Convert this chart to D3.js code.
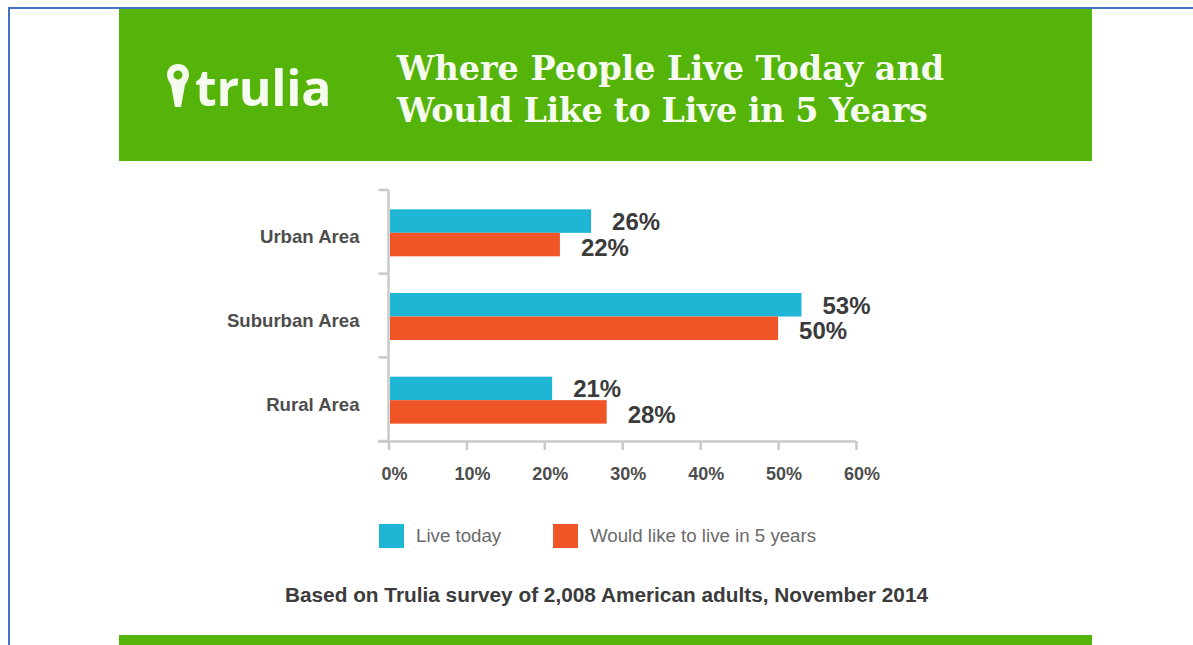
<!DOCTYPE html>
<html>
<head>
<meta charset="utf-8">
<script src="https://cdnjs.cloudflare.com/ajax/libs/d3/7.8.5/d3.min.js"></script>
<style>
  html, body { margin: 0; padding: 0; background: #fff; overflow: hidden; }
  svg { display: block; }
  text { font-family: "Liberation Sans", Arial, sans-serif; }
</style>
</head>
<body>
<script>
const categories = ["Urban Area", "Suburban Area", "Rural Area"];
const liveToday = [26, 53, 21];
const inFiveYears = [22, 50, 28];
const xTicks = [0, 10, 20, 30, 40, 50, 60];
const seriesNames = ["Live today", "Would like to live in 5 years"];
const titleLines = ["Where People Live Today and", "Would Like to Live in 5 Years"];
const footnote = "Based on Trulia survey of 2,008 American adults, November 2014";

const GREEN = "#55b409", BLUE = "#1fb6d6", RED = "#f05527", AXIS = "#c9c9c9", INK = "#3b3b3b";
const seriesColors = [BLUE, RED];

const svg = d3.select("body").append("svg").attr("width", 1193).attr("height", 645);

// Page frame: top and left rules only
svg.append("path")
  .attr("d", "M9,645V8H1193")
  .attr("fill", "none").attr("stroke", "#4472c4").attr("stroke-width", 2);

// Header and footer bands
svg.append("rect").attr("x", 119).attr("y", 9).attr("width", 973).attr("height", 152).attr("fill", GREEN);
svg.append("rect").attr("x", 119).attr("y", 635).attr("width", 973).attr("height", 10).attr("fill", GREEN);

// Logo: map pin and wordmark
const logo = svg.append("g").attr("transform", "translate(178,64)");
logo.append("path")
  .attr("fill-rule", "evenodd")
  .attr("fill", "#f6fbf0")
  .attr("d", "M0,0C-6.5,0,-11,4.6,-11,11C-11,15,-8.5,18,-7,21L-3,43H3L7,21C8.5,18,11,15,11,11C11,4.6,6.5,0,0,0ZM0,6.5A4.5,4.5,0,1,1,0,15.5A4.5,4.5,0,1,1,0,6.5Z");
svg.append("text")
  .attr("x", 195).attr("y", 106)
  .attr("fill", "#f6fbf0")
  .style("font-family", "'Open Sans', sans-serif")
  .style("font-weight", 700).style("font-size", "50px")
  .style("letter-spacing", "-0.3px")
  .text("trulia");

// Title; the second line is set slightly tighter than the first
svg.selectAll("text.title").data(titleLines).join("text")
  .attr("class", "title")
  .attr("x", 397)
  .attr("y", (d, i) => 80 + i * 42)
  .attr("fill", "#f6fbf0")
  .style("font-family", "'DejaVu Serif', serif")
  .style("font-weight", 700).style("font-size", "33.4px")
  .style("letter-spacing", (d, i) => i ? "-0.42px" : "0")
  .text(d => d);

// Scales
const x = d3.scaleLinear().domain([0, 60]).range([388.5, 856]);
const y = d3.scaleBand().domain(categories).range([191, 442]);
const barH = 23.5;
const barStart = 390;

// Axes
const gx = svg.append("g").attr("transform", "translate(0,441)")
  .call(d3.axisBottom(x).tickValues(xTicks).tickSize(9).tickPadding(17).tickFormat(d => d + "%"));
gx.select(".domain").attr("d", "M378,0.5H856").attr("stroke", AXIS).attr("stroke-width", 2.5);
gx.selectAll(".tick line").attr("stroke", AXIS).attr("stroke-width", 2.5);
gx.selectAll(".tick text")
  .attr("dx", 5.5)
  .attr("fill", "#4d4d4d")
  .style("font-family", "'Liberation Sans', Arial, sans-serif")
  .style("font-size", "18px").style("font-weight", 700);

const yAxis = d3.axisLeft(y).tickSize(0).tickPadding(29);
const gy = svg.append("g").attr("transform", "translate(388.5,0)").call(yAxis);
gy.select(".domain").attr("d", "M0,190V441").attr("stroke", AXIS).attr("stroke-width", 2.5);
gy.selectAll(".tick text")
  .attr("dy", "0.56em")
  .attr("fill", "#4d4d4d")
  .style("font-family", "'Liberation Sans', Arial, sans-serif")
  .style("font-size", "18.6px").style("font-weight", 700);

// Separator ticks between the category bands
gy.selectAll("line.sep").data(d3.range(categories.length + 1)).join("line")
  .attr("class", "sep")
  .attr("x1", -10).attr("x2", 0)
  .attr("y1", i => 190 + i * y.step()).attr("y2", i => 190 + i * y.step())
  .attr("stroke", AXIS).attr("stroke-width", 2.5);

// Bars and value labels
const rows = categories.map((c, i) => ({ c, vals: [liveToday[i], inFiveYears[i]] }));
const groups = svg.selectAll("g.row").data(rows).join("g").attr("class", "row");
groups.each(function (row) {
  const centre = y(row.c) + y.bandwidth() / 2;
  const g = d3.select(this);
  row.vals.forEach((v, s) => {
    const top = centre - barH + s * barH;
    g.append("rect")
      .attr("x", barStart).attr("y", top)
      .attr("width", x(v) - barStart).attr("height", barH)
      .attr("fill", seriesColors[s]);
    g.append("text")
      .attr("x", x(v) + 21).attr("y", top + barH / 2 + (s ? 11 : 9))
      .attr("fill", INK)
      .style("font-size", "24px").style("font-weight", 700)
      .text(v + "%");
  });
});

// Legend
const legendX = [379, 553];
seriesNames.forEach((name, i) => {
  svg.append("rect")
    .attr("x", legendX[i]).attr("y", 524).attr("width", 25).attr("height", 24)
    .attr("fill", seriesColors[i]);
  svg.append("text")
    .attr("x", legendX[i] + 37).attr("y", 542)
    .attr("fill", "#6a6a6a")
    .style("font-size", "18.7px")
    .text(name);
});

// Source note
svg.append("text")
  .attr("x", 606.5).attr("y", 602)
  .attr("text-anchor", "middle")
  .attr("fill", INK)
  .style("font-size", "20.8px").style("font-weight", 700)
  .text(footnote);
</script>
</body>
</html>
